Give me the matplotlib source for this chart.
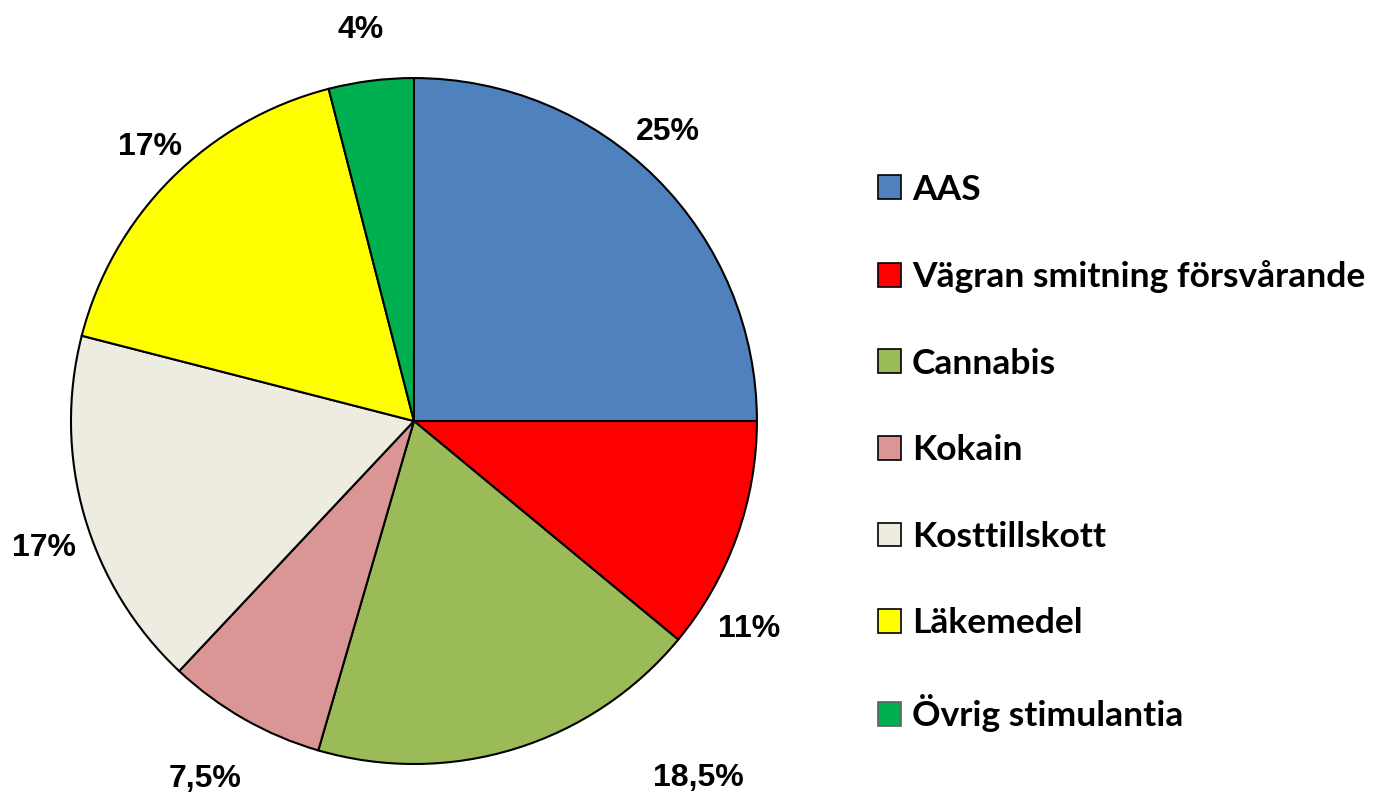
import numpy as np
import matplotlib
matplotlib.use('Agg')
import matplotlib.pyplot as plt
from matplotlib.patches import Patch

# data
kategorier = ['AAS', 'Vägran smitning försvårande', 'Cannabis', 'Kokain',
              'Kosttillskott', 'Läkemedel', 'Övrig stimulantia']
andelar = [25, 11, 18.5, 7.5, 17, 17, 4]
etiketter = ['25%', '11%', '18,5%', '7,5%', '17%', '17%', '4%']
farger = ['#4F81BD', '#FF0000', '#9BBB59', '#D99694', '#EEECE1', '#FFFF00', '#00B050']

# label placement (angle in degrees, distance in radii)
etikett_pos = [(48.7, 1.12), (-31.9, 1.15), (-51.5, 1.33), (-120.3, 1.21),
               (-161, 1.14), (133.9, 1.11), (97.8, 1.15)]

fig = plt.figure(figsize=(13.81, 7.98), dpi=100)
ax = fig.add_axes([0.0514, 0.0426, 0.4967, 0.8596])
wedges, _ = ax.pie(andelar, colors=farger, startangle=90, counterclock=False,
                   radius=1, wedgeprops=dict(edgecolor='black', linewidth=1.5))
ax.set_xlim(-1, 1)
ax.set_ylim(-1, 1)
ax.set_aspect('equal')
ax.axis('off')

for txt, (ang, dist) in zip(etiketter, etikett_pos):
    a = np.deg2rad(ang)
    ax.text(dist * np.cos(a), dist * np.sin(a), txt, ha='center', va='center',
            fontsize=23, fontweight='bold', family='Liberation Sans', clip_on=False)

handles = []
for i, (k, c) in enumerate(zip(kategorier, farger)):
    ec = '#606060' if i == len(kategorier) - 1 else 'black'
    handles.append(Patch(facecolor=c, edgecolor=ec, linewidth=1.2, label=k))

leg = fig.legend(handles=handles, loc='upper left', bbox_to_anchor=(0.6255, 0.8),
                 frameon=False, prop={'family': 'Lato', 'weight': 'bold', 'size': 25.5},
                 handlelength=0.66, handleheight=0.66, handletextpad=0.3,
                 labelspacing=1.54, borderaxespad=0)

fig.savefig('out.png', dpi=100)
